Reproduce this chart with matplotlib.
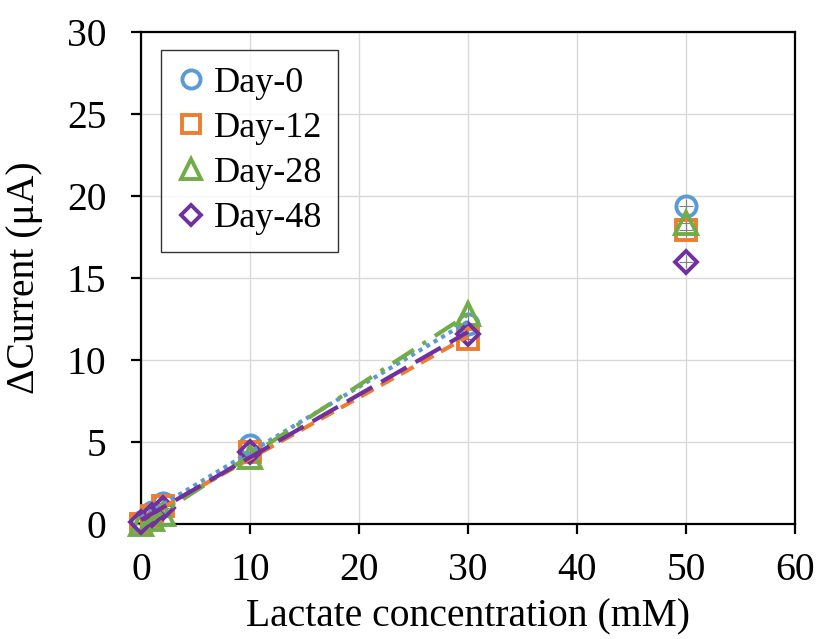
import numpy as np
import matplotlib
matplotlib.use("Agg")
import matplotlib.pyplot as plt

plt.rcParams['font.family'] = ['Liberation Serif', 'DejaVu Serif']

conc = [0, 1, 2, 10, 30, 50]
series_names = ["Day-0", "Day-12", "Day-28", "Day-48"]
day0 = [0.1, 0.7, 1.3, 4.8, 12.2, 19.4]
day12 = [0.0, 0.5, 1.1, 4.4, 11.3, 17.9]
day28 = [0.0, 0.3, 0.6, 4.1, 12.8, 18.35]
day48 = [0.1, 0.55, 1.0, 4.4, 11.6, 16.0]
fit_upto = 30  # linear trendlines fitted on 0-30 mM
yerr_val = 0.4
xerr_val = 0.6

x_ticks = [0, 10, 20, 30, 40, 50, 60]
y_ticks = [0, 5, 10, 15, 20, 25, 30]

colors = ['#5B9BD5', '#ED7D31', '#70AD47', '#7030A0']
markers = ['o', 's', '^', 'D']
msizes = [14.5, 15, 16, 11.5]
linestyles = [(0, (1.0, 1.1)), (0, (3.5, 2)), (0, (6, 2.5, 1, 2.5)), (0, (7, 2.5))]

fig = plt.figure(figsize=(8.2, 6.39), dpi=100)
ax = fig.add_axes([0.172, 0.18, 0.7975, 0.77])

all_y = [day0, day12, day28, day48]
x = np.array(conc, dtype=float)
handles = []
for i, (name, yv) in enumerate(zip(series_names, all_y)):
    y = np.array(yv, dtype=float)
    ax.errorbar(x, y, yerr=yerr_val, xerr=xerr_val, fmt='none', ecolor='#808080',
                elinewidth=0.8, capsize=0, zorder=2, clip_on=False)
    h, = ax.plot(x, y, linestyle='none', marker=markers[i], markersize=msizes[i],
                 markerfacecolor='none', markeredgecolor=colors[i], markeredgewidth=2.8,
                 label=name, zorder=3, clip_on=False)
    handles.append(h)
    m = x <= fit_upto
    k, b = np.polyfit(x[m], y[m], 1)
    xf = np.array([0, fit_upto], dtype=float)
    ax.plot(xf, k * xf + b, color=colors[i], linestyle=linestyles[i], linewidth=3.0,
            zorder=4, dash_capstyle='butt', clip_on=False)

ax.set_xlim(0, 60)
ax.set_ylim(0, 30)
ax.set_xticks(x_ticks)
ax.set_yticks(y_ticks)
ax.grid(True, color='#d9d9d9', linewidth=1.0, zorder=0)
ax.set_axisbelow(True)
for s in ax.spines.values():
    s.set_linewidth(1.6)
    s.set_color('black')
ax.tick_params(axis='both', which='major', direction='out', length=7, width=1.6,
               labelsize=28.5, colors='black')
ax.tick_params(axis='x', pad=13)
ax.tick_params(axis='y', pad=18)

ax.set_xlabel('Lactate concentration (mM)', fontsize=28.5)
ax.set_ylabel('ΔCurrent (μA)', fontsize=28.5)
ax.xaxis.set_label_coords(0.5, -0.152)
ax.yaxis.set_label_coords(-0.15, 0.5)

leg = ax.legend(handles=handles, loc='upper left', bbox_to_anchor=(0.031, 0.963),
                borderaxespad=0, fontsize=26, frameon=True, fancybox=False,
                handlelength=0.75, handletextpad=0.25, labelspacing=0.33,
                borderpad=0.45, markerscale=0.9)
leg.get_frame().set_edgecolor('black')
leg.get_frame().set_linewidth(1.0)

fig.savefig('out.png', dpi=100)
